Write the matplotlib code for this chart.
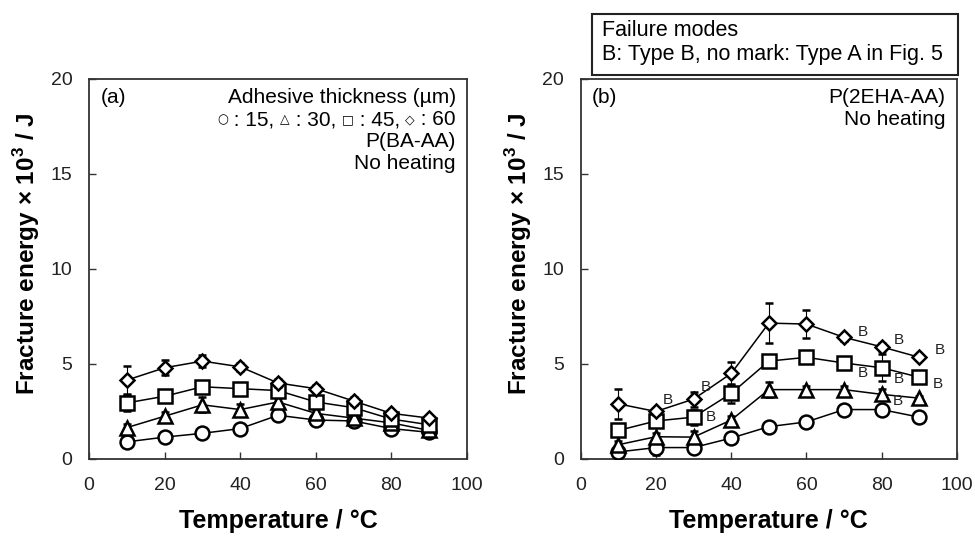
import matplotlib
matplotlib.use('Agg')

import matplotlib.pyplot as plt
from matplotlib.offsetbox import TextArea, HPacker, AnchoredOffsetbox
from matplotlib.patches import Rectangle

plt.rcParams['font.family'] = ['Liberation Sans', 'DejaVu Sans']

temp = [10, 20, 30, 40, 50, 60, 70, 80, 90]
thickness = [15, 30, 45, 60]

# panel (a): P(BA-AA)
energy_a = {
  15: [0.9, 1.15, 1.35, 1.6, 2.3, 2.05, 2.0, 1.6, 1.4],
  30: [1.65, 2.25, 2.85, 2.6, 3.0, 2.4, 2.15, 1.9, 1.5],
  45: [2.95, 3.3, 3.8, 3.7, 3.6, 3.0, 2.7, 2.1, 1.8],
  60: [4.15, 4.8, 5.15, 4.85, 4.0, 3.7, 3.05, 2.4, 2.15],
}
err_a = {
  15: [0.1, 0.1, 0.1, 0.1, 0.1, 0.1, 0.1, 0.1, 0.1],
  30: [0.2, 0.2, 0.4, 0.3, 0.2, 0.2, 0.2, 0.1, 0.1],
  45: [0.4, 0.2, 0.2, 0.2, 0.2, 0.2, 0.1, 0.1, 0.1],
  60: [0.75, 0.4, 0.3, 0.2, 0.2, 0.2, 0.2, 0.1, 0.1],
}

# panel (b): P(2EHA-AA)
energy_b = {
  15: [0.37, 0.6, 0.6, 1.1, 1.7, 1.95, 2.6, 2.6, 2.2],
  30: [0.75, 1.17, 1.15, 2.05, 3.65, 3.65, 3.65, 3.4, 3.2],
  45: [1.5, 2.0, 2.2, 3.45, 5.15, 5.35, 5.05, 4.8, 4.3],
  60: [2.9, 2.5, 3.15, 4.5, 7.15, 7.1, 6.4, 5.9, 5.35],
}
err_b = {
  15: [0.1, 0.4, 0.1, 0.1, 0.1, 0.1, 0.1, 0.1, 0.1],
  30: [0.2, 0.2, 0.3, 0.2, 0.4, 0.2, 0.2, 0.3, 0.1],
  45: [0.2, 0.2, 0.4, 0.5, 0.3, 0.2, 0.2, 0.7, 0.2],
  60: [0.8, 0.2, 0.4, 0.6, 1.05, 0.75, 0.2, 0.2, 0.1],
}

# failure mode "B" marks in panel (b): (thickness, temperature)
type_b = [(60, 20), (60, 30), (60, 70), (60, 80), (60, 90),
          (45, 30), (45, 70), (45, 80), (45, 90), (30, 80)]
b_offset = {(60, 20): (5, 8), (60, 30): (5, 9), (60, 70): (10, 4), (60, 80): (9, 5),
            (60, 90): (11, 5), (45, 30): (9, 0), (45, 70): (10, -7), (45, 80): (9, -8),
            (45, 90): (10, -5), (30, 80): (8, -5)}

markers = {15: ('o', 10), 30: ('^', 10), 45: ('s', 10), 60: ('D', 7.2)}
symbols = {15: '○', 30: '△', 45: '□', 60: '◇'}

fig = plt.figure(figsize=(9.75, 5.37), dpi=100)
ax_a = fig.add_axes([0.0913, 0.1453, 0.3877, 0.7077])
ax_b = fig.add_axes([0.5956, 0.1453, 0.3859, 0.7077])


def draw(ax, energy, err):
  for k, th in enumerate(thickness):
    m, ms = markers[th]
    ax.errorbar(temp, energy[th], yerr=err[th], color='k', lw=1.1, marker=m,
                ms=ms, mfc='white', mec='k', mew=1.8, ecolor='k', elinewidth=0.8,
                capsize=3, capthick=0.8, zorder=3 + k)
  ax.set_xlim(0, 100)
  ax.set_ylim(0, 20)
  ax.set_xticks([0, 20, 40, 60, 80, 100])
  ax.set_yticks([0, 5, 10, 15, 20])
  ax.tick_params(direction='in', length=5, width=1, labelsize=14,
                 colors='#333333', labelcolor='#222222')
  ax.tick_params(axis='x', pad=13)
  ax.tick_params(axis='y', pad=12)
  for s in ax.spines.values():
    s.set_linewidth(1.3)
    s.set_color('#333333')
  ax.set_xlabel('Temperature / °C', fontsize=18, fontweight='bold', labelpad=11)
  ax.set_ylabel('Fracture energy × 10$^\\mathregular{3}$ / J', fontsize=17.5,
                fontweight='bold')
  ax.yaxis.set_label_coords(-0.125, 0.54)


draw(ax_a, energy_a, err_a)
draw(ax_b, energy_b, err_b)

for th, t in type_b:
  i = temp.index(t)
  dx, dy = b_offset[(th, t)]
  ax_b.annotate('B', (t, energy_b[th][i]), xytext=(dx, dy), textcoords='offset points',
                fontsize=11, va='center', ha='left', color='#222222', zorder=10)

fs = 15
ax_a.text(0.03, 0.95, '(a)', transform=ax_a.transAxes, fontsize=fs, va='center')
ax_a.text(0.97, 0.95, 'Adhesive thickness (µm)', transform=ax_a.transAxes,
          fontsize=fs, va='center', ha='right')

# symbol key: small open symbols followed by the thickness values
pieces = []
for k, th in enumerate(thickness):
  pieces.append(TextArea(symbols[th], textprops=dict(fontsize=9, family='DejaVu Sans')))
  label = ' : %d, ' % th if k < len(thickness) - 1 else ' : %d' % th
  pieces.append(TextArea(label, textprops=dict(fontsize=fs)))
key = HPacker(children=pieces, align='center', pad=0, sep=0)
ax_a.add_artist(AnchoredOffsetbox(loc='center right', child=key, pad=0, borderpad=0,
                                  frameon=False, bbox_to_anchor=(0.97, 0.892),
                                  bbox_transform=ax_a.transAxes))

ax_a.text(0.97, 0.835, 'P(BA-AA)', transform=ax_a.transAxes, fontsize=fs,
          va='center', ha='right')
ax_a.text(0.97, 0.777, 'No heating', transform=ax_a.transAxes, fontsize=fs,
          va='center', ha='right')

ax_b.text(0.03, 0.95, '(b)', transform=ax_b.transAxes, fontsize=fs, va='center')
ax_b.text(0.97, 0.95, 'P(2EHA-AA)', transform=ax_b.transAxes, fontsize=fs,
          va='center', ha='right')
ax_b.text(0.97, 0.892, 'No heating', transform=ax_b.transAxes, fontsize=fs,
          va='center', ha='right')

fig.patches.append(Rectangle((0.6072, 0.8603), 0.3754, 0.1136, transform=fig.transFigure,
                             fc='white', ec='#222222', lw=1.5))
fig.text(0.6174, 0.9423, 'Failure modes', fontsize=15.5, va='center', ha='left')
fig.text(0.6174, 0.8976, 'B: Type B, no mark: Type A in Fig. 5', fontsize=15.5,
         va='center', ha='left')

fig.savefig('out.png', dpi=100)
